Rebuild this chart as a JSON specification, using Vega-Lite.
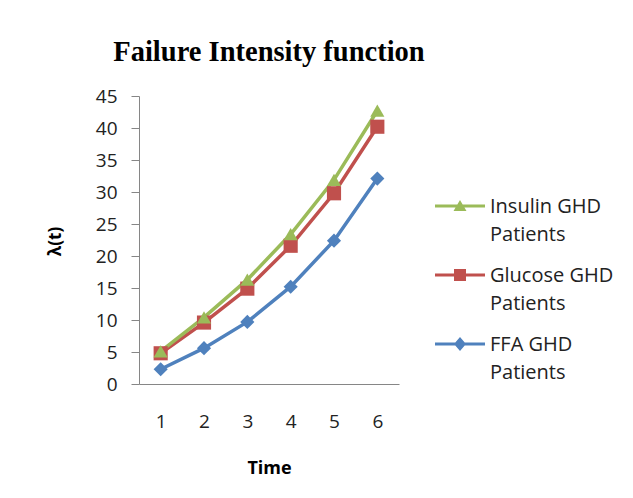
{
  "$schema": "https://vega.github.io/schema/vega-lite/v6.json",
  "width": 260,
  "height": 288,
  "autosize": {"type": "none"},
  "padding": {"left": 139, "top": 96, "right": 234, "bottom": 114},
  "background": "white",
  "title": {
    "text": "Failure Intensity function",
    "font": "Liberation Serif",
    "fontSize": 28.5,
    "fontWeight": "bold",
    "color": "black",
    "anchor": "middle",
    "frame": "group",
    "baseline": "alphabetic",
    "offset": 36,
    "dy": 38
  },
  "data": {
    "values": [
      {"series": "FFA GHD Patients", "time": "1", "value": 2.3},
      {"series": "FFA GHD Patients", "time": "2", "value": 5.6},
      {"series": "FFA GHD Patients", "time": "3", "value": 9.7},
      {"series": "FFA GHD Patients", "time": "4", "value": 15.2},
      {"series": "FFA GHD Patients", "time": "5", "value": 22.4},
      {"series": "FFA GHD Patients", "time": "6", "value": 32.1},
      {"series": "Glucose GHD Patients", "time": "1", "value": 4.8},
      {"series": "Glucose GHD Patients", "time": "2", "value": 9.6},
      {"series": "Glucose GHD Patients", "time": "3", "value": 14.9},
      {"series": "Glucose GHD Patients", "time": "4", "value": 21.6},
      {"series": "Glucose GHD Patients", "time": "5", "value": 29.8},
      {"series": "Glucose GHD Patients", "time": "6", "value": 40.2},
      {"series": "Insulin GHD Patients", "time": "1", "value": 5.1},
      {"series": "Insulin GHD Patients", "time": "2", "value": 10.4},
      {"series": "Insulin GHD Patients", "time": "3", "value": 16.3},
      {"series": "Insulin GHD Patients", "time": "4", "value": 23.4},
      {"series": "Insulin GHD Patients", "time": "5", "value": 31.9},
      {"series": "Insulin GHD Patients", "time": "6", "value": 42.7}
    ]
  },
  "encoding": {
    "x": {
      "field": "time",
      "type": "ordinal",
      "sort": null,
      "scale": {"type": "point", "padding": 0.5},
      "axis": {
        "title": "Time",
        "labelAngle": 0,
        "ticks": false,
        "labelPadding": 28,
        "labelBaseline": "top",
        "titleY": 89,
        "titleBaseline": "alphabetic"
      }
    },
    "y": {
      "field": "value",
      "type": "quantitative",
      "scale": {"domain": [0, 45], "nice": false, "zero": true},
      "axis": {
        "title": "λ(t)",
        "values": [0, 5, 10, 15, 20, 25, 30, 35, 40, 45],
        "tickSize": 8,
        "labelPadding": 14,
        "titleX": -84,
        "titleY": 145,
        "titleBaseline": "middle",
        "titleFontSize": 17
      }
    }
  },
  "layer": [
    {
      "mark": {"type": "line", "strokeWidth": 3.5},
      "encoding": {
        "color": {
          "field": "series",
          "type": "nominal",
          "scale": {
            "domain": ["Insulin GHD Patients", "Glucose GHD Patients", "FFA GHD Patients"],
            "range": ["#9BBB59", "#C0504D", "#4F81BD"]
          },
          "legend": null
        }
      }
    },
    {
      "mark": {"type": "point", "filled": true, "opacity": 1, "size": 200, "strokeWidth": 0},
      "encoding": {
        "color": {
          "field": "series",
          "type": "nominal",
          "scale": {
            "domain": ["Insulin GHD Patients", "Glucose GHD Patients", "FFA GHD Patients"],
            "range": ["#9BBB59", "#C0504D", "#4F81BD"]
          },
          "legend": null
        },
        "shape": {
          "field": "series",
          "type": "nominal",
          "scale": {
            "domain": ["Insulin GHD Patients", "Glucose GHD Patients", "FFA GHD Patients"],
            "range": ["triangle-up", "square", "diamond"]
          },
          "legend": null
        }
      }
    },
    {
      "mark": {"type": "point", "filled": true, "opacity": 0, "size": 10},
      "encoding": {
        "color": {
          "field": "series",
          "type": "nominal",
          "scale": {
            "domain": ["Insulin GHD Patients", "Glucose GHD Patients", "FFA GHD Patients"],
            "range": ["#9BBB59", "#C0504D", "#4F81BD"]
          },
          "legend": {
            "title": null,
            "orient": "none",
            "legendX": 296,
            "legendY": 85,
            "symbolSize": 2500,
            "symbolOpacity": 1,
            "symbolStrokeWidth": 0,
            "labelFont": "Open Sans",
            "labelFontSize": 20,
            "labelColor": "#222222",
            "labelLimit": 300,
            "labelOffset": 5,
            "labelBaseline": "alphabetic",
            "rowPadding": 5,
            "labelExpr": "[replace(datum.label, ' Patients', ''), 'Patients']",
            "encode": {
              "labels": {"update": {"lineHeight": {"value": 28}, "dy": {"value": 7}}}
            }
          }
        },
        "shape": {
          "field": "series",
          "type": "nominal",
          "scale": {
            "domain": ["Insulin GHD Patients", "Glucose GHD Patients", "FFA GHD Patients"],
            "range": [
              "M-1,-0.064H1V0.064H-1Z M-0.26,0.2L0,-0.24L0.26,0.2Z",
              "M-1,-0.064H1V0.064H-1Z M-0.24,-0.24H0.24V0.24H-0.24Z",
              "M-1,-0.064H1V0.064H-1Z M0,-0.28L0.24,0L0,0.28L-0.24,0Z"
            ]
          },
          "legend": {
            "title": null,
            "orient": "none",
            "legendX": 296,
            "legendY": 85,
            "symbolSize": 2500,
            "symbolOpacity": 1,
            "symbolStrokeWidth": 0,
            "labelFont": "Open Sans",
            "labelFontSize": 20,
            "labelColor": "#222222",
            "labelLimit": 300,
            "labelOffset": 5,
            "labelBaseline": "alphabetic",
            "rowPadding": 5,
            "labelExpr": "[replace(datum.label, ' Patients', ''), 'Patients']",
            "encode": {
              "labels": {"update": {"lineHeight": {"value": 28}, "dy": {"value": 7}}}
            }
          }
        }
      }
    }
  ],
  "resolve": {"scale": {"color": "independent", "shape": "independent"}},
  "config": {
    "view": {"stroke": null},
    "axis": {
      "grid": false,
      "domainColor": "#868686",
      "domainWidth": 1,
      "tickColor": "#868686",
      "labelFont": "Open Sans",
      "labelFontSize": 19,
      "labelColor": "#222222",
      "titleFont": "Open Sans",
      "titleFontSize": 18,
      "titleFontWeight": "bold",
      "titleColor": "black"
    }
  }
}
